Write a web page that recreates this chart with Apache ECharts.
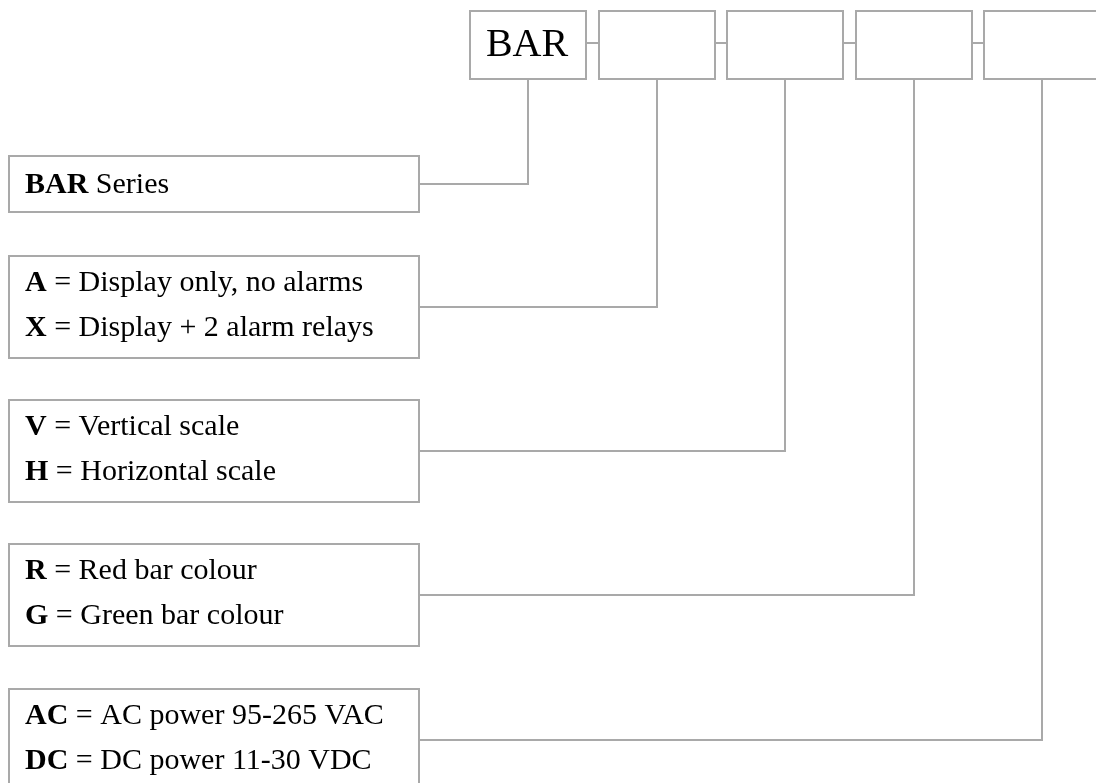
<!DOCTYPE html>
<html>
<head>
<meta charset="utf-8">
<script src="https://cdn.jsdelivr.net/npm/echarts@6/dist/echarts.min.js"></script>
<style>
html,body{margin:0;padding:0;background:#fff;}
#chart{width:1096px;height:783px;}
</style>
</head>
<body>
<div id="chart"></div>
<script>
// Ordering-code slots (top row)
const codeSlots = ['BAR', '', '', '', ''];
// Option boxes: bold codes and their descriptions (one box per slot)
const optionCodes = [['BAR'], ['A', 'X'], ['V', 'H'], ['R', 'G'], ['AC', 'DC']];
const optionTexts = [
  [' Series'],
  [' = Display only, no alarms', ' = Display + 2 alarm relays'],
  [' = Vertical scale', ' = Horizontal scale'],
  [' = Red bar colour', ' = Green bar colour'],
  [' = AC power 95-265 VAC', ' = DC power 11-30 VDC']
];

const LINE = '#a9a9a9';
const FONT = '"Liberation Serif", "Times New Roman", serif';

const chart = echarts.init(document.getElementById('chart'), null, {renderer: 'canvas'});

// layout
const topY = 11, topH = 68, topW = 116, topX0 = 470, topStep = 128.5;
const leftX = 9, leftW = 410;
const boxTops = [156, 256, 400, 544, 689];
const boxHeights = [56, 102, 102, 102, 102];
const lineOffsets = [-24, 21];

const els = [];
codeSlots.forEach((label, i) => {
  const x = Math.round(topX0 + i * topStep);
  els.push({
    type: 'rect', shape: {x: x, y: topY, width: topW, height: topH},
    style: {fill: '#fff', stroke: LINE, lineWidth: 2}
  });
  if (label) {
    els.push({
      type: 'text', x: x + topW / 2 - 1, y: topY + topH / 2,
      style: {text: label, fill: '#000', font: '40px ' + FONT, align: 'center', verticalAlign: 'middle'}
    });
  }
  if (i < codeSlots.length - 1) {
    const nx = Math.round(topX0 + (i + 1) * topStep);
    els.push({type: 'line', shape: {x1: x + topW, y1: topY + 32, x2: nx, y2: topY + 32},
      style: {stroke: LINE, lineWidth: 2}});
  }
  // connector from option box to slot
  const top = boxTops[i], h = boxHeights[i];
  const midY = top + h / 2;
  const dropX = x + topW / 2;
  els.push({
    type: 'polyline',
    shape: {points: [[leftX + leftW, midY], [dropX, midY], [dropX, topY + topH]]},
    style: {stroke: LINE, lineWidth: 2, fill: null}
  });
  els.push({
    type: 'rect', shape: {x: leftX, y: top, width: leftW, height: h},
    style: {fill: '#fff', stroke: LINE, lineWidth: 2}
  });
  const codes = optionCodes[i];
  const n = codes.length;
  codes.forEach((c, j) => {
    const cy = n === 1 ? midY + 1 : midY + lineOffsets[j];
    els.push({
      type: 'text', x: leftX + 16, y: cy,
      style: {
        text: '{b|' + c + '}{r|' + optionTexts[i][j] + '}',
        verticalAlign: 'middle', align: 'left',
        rich: {
          b: {font: 'bold 30px ' + FONT, fill: '#000'},
          r: {font: '30px ' + FONT, fill: '#000'}
        }
      }
    });
  });
});

chart.setOption({
  backgroundColor: '#fff',
  animation: false,
  graphic: {elements: els}
});
</script>
</body>
</html>
